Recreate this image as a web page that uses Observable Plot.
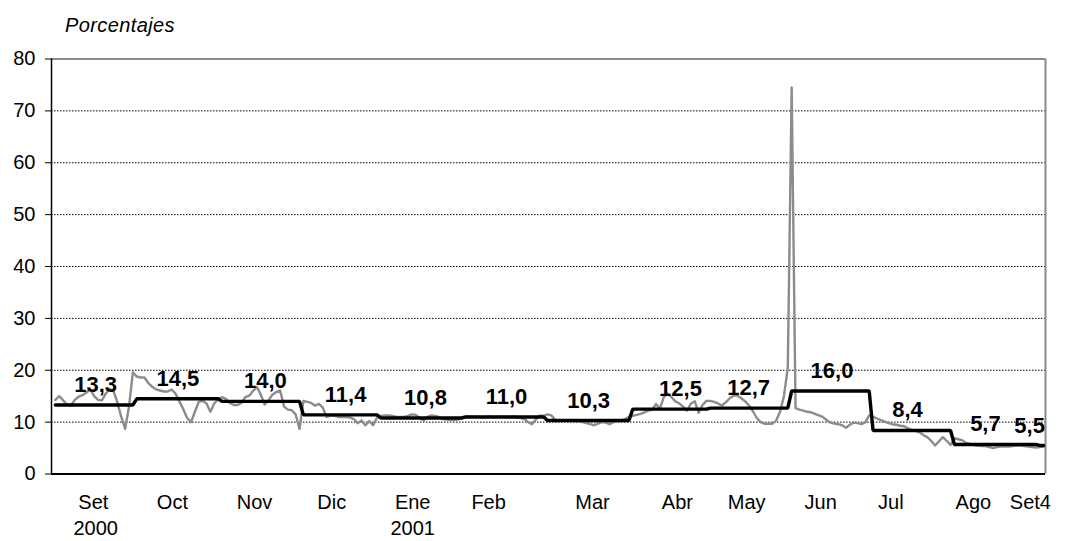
<!DOCTYPE html>
<html><head><meta charset="utf-8">
<script src="https://cdn.jsdelivr.net/npm/d3@7"></script>
<script src="https://cdn.jsdelivr.net/npm/@observablehq/plot@0.6"></script>
<style>
body{margin:0;background:#fff;font-family:"Liberation Sans",Arial,sans-serif;}
#wrap{position:relative;width:1077px;height:541px;overflow:hidden;}
#title{position:absolute;left:65px;top:15px;font-style:italic;font-size:20px;line-height:20px;color:#000;letter-spacing:0.4px;}
#chart{position:absolute;left:0;top:40px;}
</style></head><body>
<div id="wrap"><div id="title">Porcentajes</div><div id="chart"></div></div>
<script>
// Monthly categories, averages and data labels
const months = ["Set","Oct","Nov","Dic","Ene","Feb","Mar","Abr","May","Jun","Jul","Ago","Set4"];
const monthAvg = [13.3,14.5,14.0,11.4,10.8,11.0,10.3,12.5,12.7,16.0,8.4,5.7,5.5];
const labelText = ["13,3","14,5","14,0","11,4","10,8","11,0","10,3","12,5","12,7","16,0","8,4","5,7","5,5"];
const labelPos = [10.4,31.6,54.2,74.9,95.5,116.4,137.6,161.3,178.9,200.4,219.9,240,251.4];

// Daily values (trading days) per month
const dSet = [14.3,15.0,14.2,13.4,13.2,14.3,14.9,15.2,15.7,16.3,15.0,14.3,14.2,15.5,16.4,16.0,13.8,11.0,8.7,13.0,19.6];
const dOct = [18.8,18.6,18.6,17.5,16.8,16.3,16.1,15.9,15.9,16.3,15.5,14.0,12.5,10.8,10.0,12.0,13.9,14.1,13.6,12.0,13.6,14.4];
const dNov = [14.8,14.5,13.7,13.3,13.3,13.7,14.8,15.1,16.0,16.8,15.3,13.4,14.2,15.3,15.8,16.1,13.0,12.4,12.3,11.5,8.7];
const dDic = [14.1,13.9,13.7,13.2,13.5,12.8,11.0,11.2,11.2,11.0,11.0,11.0,10.9,10.6,9.8,10.3,9.4,10.2,9.4,10.9];
const dEne = [11.2,11.3,11.3,11.2,11.0,11.0,11.0,11.2,11.5,11.4,10.8,10.3,11.0,11.3,11.2,11.0,10.6,10.5,10.4,10.4,10.5,11.0];
const dFeb = [11.1,11.1,11.0,11.1,10.9,11.0,11.1,11.0,11.0,11.1,11.0,11.0,11.1,10.9,10.8,10.6,10.0,9.6,10.5,11.3,11.2];
const dMar = [11.5,11.3,10.4,10.3,10.3,10.3,10.3,10.2,10.3,10.0,9.8,9.6,9.4,9.7,10.0,9.9,9.6,10.0,10.2,10.3,10.6,11.0];
const dAbr = [11.2,11.4,11.6,11.9,12.2,12.4,13.5,12.6,14.8,15.5,14.8,14.0,13.6,13.0,12.2,13.6,14.0,11.8,13.3,14.1];
const dMay = [14.1,13.9,13.6,13.2,13.8,14.6,15.1,15.1,14.6,14.0,13.2,12.1,10.8,10.0,9.7,9.7,9.7,10.3,12.0,15.0,20.5];
const dJun = [74.5,12.7,12.4,12.2,12.0,11.9,11.6,11.3,11.0,10.4,9.9,9.7,9.6,9.4,8.9,9.5,9.9,9.8,9.6,10.0,11.3];
const dJul = [11.0,10.7,10.4,10.1,9.8,9.6,9.5,9.3,9.2,8.8,8.5,8.3,8.0,7.5,7.1,6.4,5.5,6.3,7.1,6.4,5.6];
const dAgo = [6.9,6.7,6.5,6.0,5.8,5.6,5.5,5.4,5.4,5.2,5.0,5.2,5.3,5.3,5.3,5.4,5.5,5.5,5.4,5.3,5.2,5.1];
const dSet4 = [5.2,5.3];
const dailyByMonth = [dSet,dOct,dNov,dDic,dEne,dFeb,dMar,dAbr,dMay,dJun,dJul,dAgo,dSet4];

// Axis tick labels
const yTicks = [0,10,20,30,40,50,60,70,80];
const tickLabels = ["Set","Oct","Nov","Dic","Ene","Feb","Mar","Abr","May","Jun","Jul","Ago","Set4"];
const tickPos = [9.8,30.2,51.4,71.3,92.2,111.8,138.6,160.5,178.4,197.5,215.6,236.9,251.6];
const yearLabels = ["2000","2001"];
const yearPos = [10.4,92.2];

// Build tables
const daily = [];
const steps = [];
let idx = 0;
dailyByMonth.forEach((arr, m) => {
  const start = idx;
  arr.forEach(v => daily.push({i: idx++, v}));
  steps.push({i: start, v: monthAvg[m]}, {i: idx - 1, v: monthAvg[m]});
});
const labels = labelText.map((t, k) => ({x: labelPos[k], y: monthAvg[k], t}));
const ticks = tickLabels.map((t, k) => ({x: tickPos[k], t}));
const years = yearLabels.map((t, k) => ({x: yearPos[k], t}));
const xMax = idx - 0.5;

const chart = Plot.plot({
  width: 1077, height: 501,
  marginLeft: 51, marginRight: 32, marginTop: 18.5, marginBottom: 67.5,
  x: {type: "linear", domain: [-1, xMax], axis: null},
  y: {domain: [0, 80], axis: null},
  style: {fontFamily: "Liberation Sans, Arial, sans-serif", background: "white", overflow: "visible", color: "#000"},
  marks: [
    Plot.ruleY(yTicks.filter(d => d > 0 && d < 80), {stroke: "#000", strokeWidth: 1, strokeDasharray: "1.5,1.5"}),
    Plot.ruleY([80], {stroke: "#8a8a8a", strokeWidth: 2}),
    Plot.ruleX([xMax], {stroke: "#8a8a8a", strokeWidth: 2}),
    Plot.line(daily, {x: "i", y: "v", stroke: "#8c8c8c", strokeWidth: 2.4}),
    Plot.line(steps, {x: "i", y: "v", stroke: "#000", strokeWidth: 3.4, strokeLinejoin: "miter"}),
    Plot.ruleY([0], {stroke: "#000", strokeWidth: 2}),
    Plot.ruleX([-1], {stroke: "#000", strokeWidth: 1.5}),
    Plot.axisY({ticks: yTicks, tickSize: 6, tickPadding: 10, fontSize: 20, anchor: "left", stroke: "#000"}),
    Plot.text(labels, {x: "x", y: "y", text: "t", dy: -20, fontSize: 22, fontWeight: "bold", fill: "#000"}),
    Plot.text(ticks, {x: "x", y: () => 0, text: "t", dy: 28.5, fontSize: 20, fill: "#000"}),
    Plot.text(years, {x: "x", y: () => 0, text: "t", dy: 54.5, fontSize: 20, fill: "#000"})
  ]
});
document.getElementById("chart").appendChild(chart);
</script>
</body></html>
